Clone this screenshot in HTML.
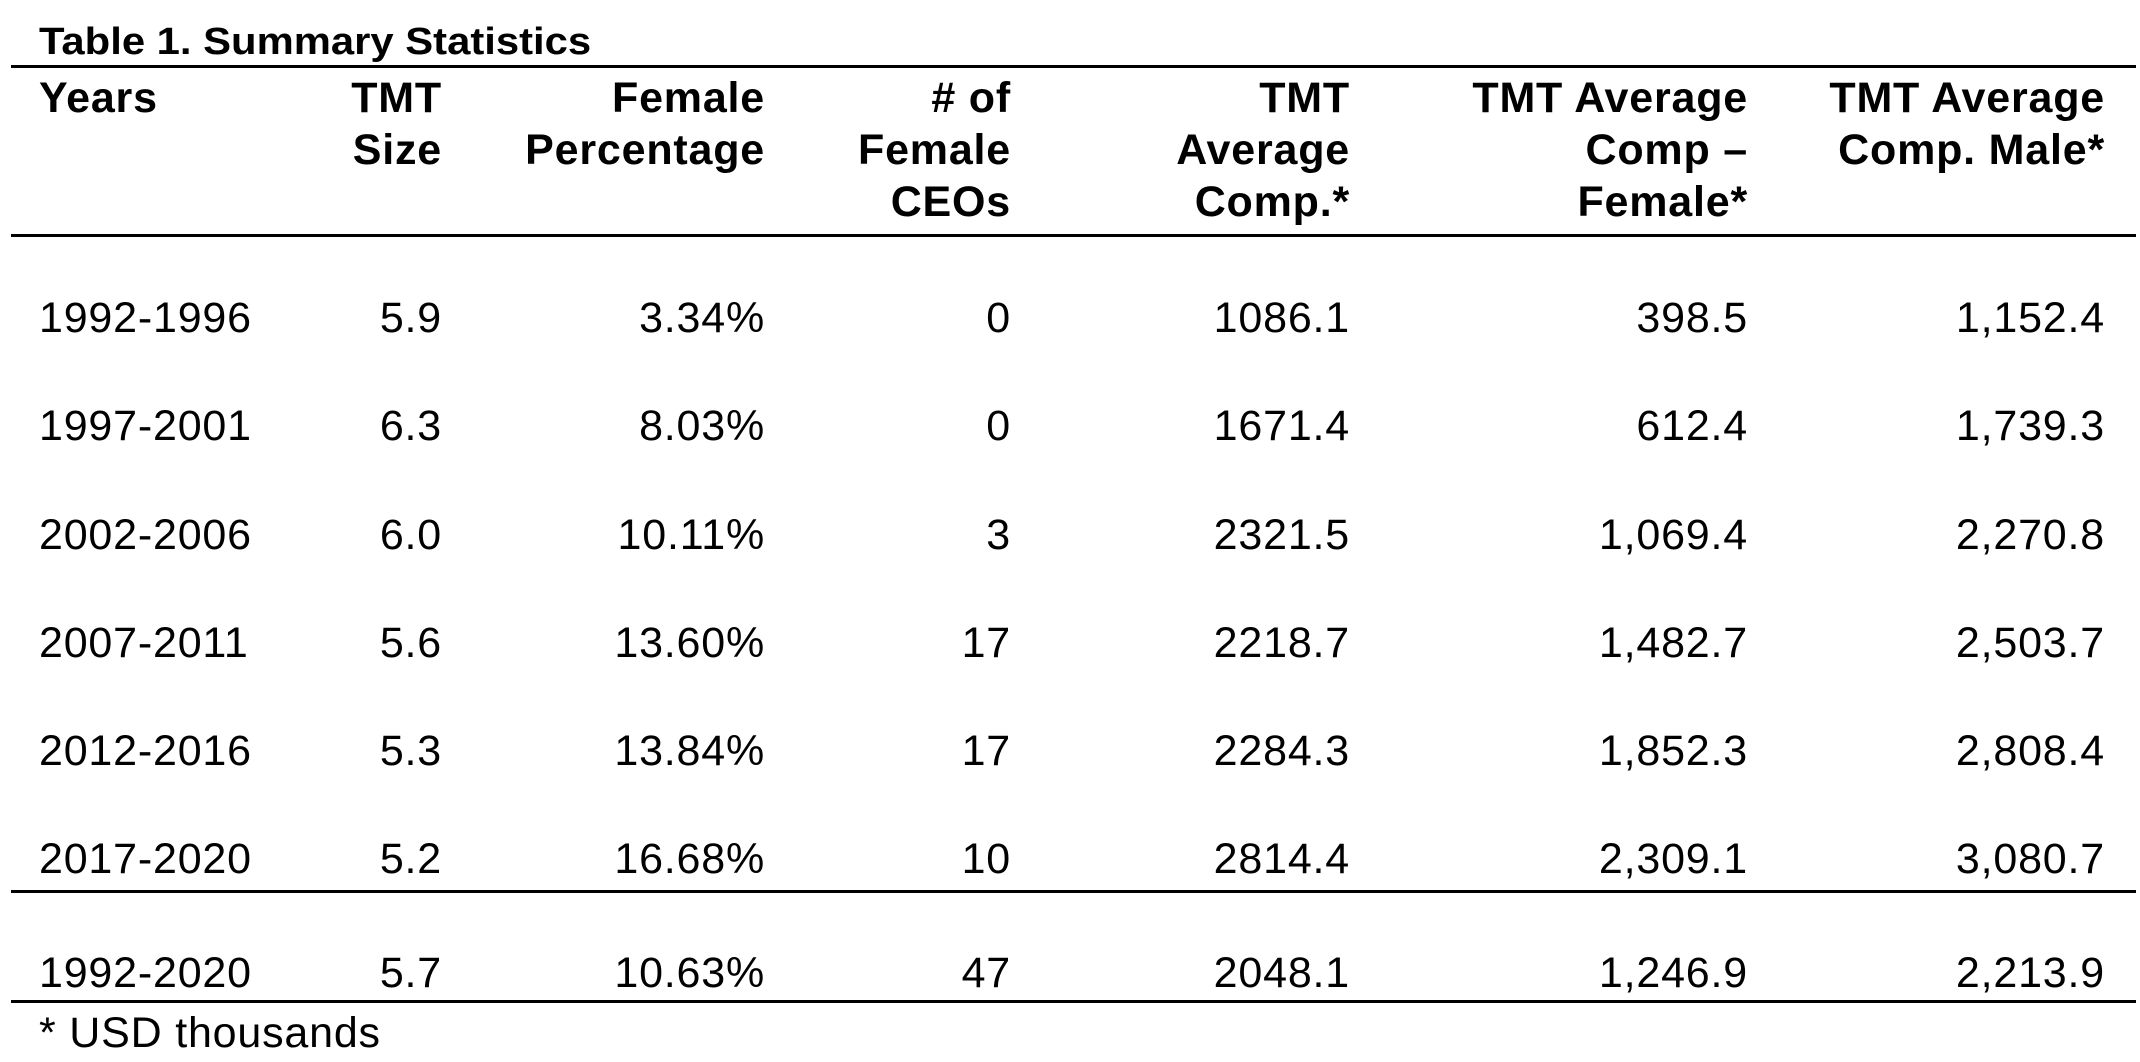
<!DOCTYPE html>
<html><head><meta charset="utf-8"><style>
body{margin:0;width:2140px;height:1062px;background:#fff;position:relative;overflow:hidden;font-family:"Liberation Sans",Arial,sans-serif;color:#000}
.t{position:absolute;font-size:43px;line-height:50px;white-space:nowrap;letter-spacing:0.8px}
.b{font-weight:bold}
.r{text-align:right}
.ln{position:absolute;left:11px;width:2125px;height:3px;background:#000}
</style></head><body>
<div class="t b" style="left:39px;top:20px;font-size:38px;line-height:44px;letter-spacing:0;transform:scaleX(1.1);transform-origin:0 0">Table 1. Summary Statistics</div>
<div class="ln" style="top:65px"></div>
<div class="ln" style="top:234px"></div>
<div class="ln" style="top:890px"></div>
<div class="ln" style="top:1000px"></div>

<div class="t b" style="left:39px;top:72px;line-height:52px">Years</div>
<div class="t b r" style="right:1698px;top:72px;line-height:52px">TMT<br>Size</div>
<div class="t b r" style="right:1375px;top:72px;line-height:52px">Female<br>Percentage</div>
<div class="t b r" style="right:1129px;top:72px;line-height:52px"># of<br>Female<br>CEOs</div>
<div class="t b r" style="right:790px;top:72px;line-height:52px">TMT<br>Average<br>Comp.*</div>
<div class="t b r" style="right:392px;top:72px;line-height:52px">TMT Average<br>Comp –<br>Female*</div>
<div class="t b r" style="right:35px;top:72px;line-height:52px">TMT Average<br>Comp. Male*</div>

<div class="t" style="left:39px;top:264px;line-height:108.3px">1992-1996<br>1997-2001<br>2002-2006<br>2007-2011<br>2012-2016<br>2017-2020</div>
<div class="t r" style="right:1698px;top:264px;line-height:108.3px">5.9<br>6.3<br>6.0<br>5.6<br>5.3<br>5.2</div>
<div class="t r" style="right:1375px;top:264px;line-height:108.3px">3.34%<br>8.03%<br>10.11%<br>13.60%<br>13.84%<br>16.68%</div>
<div class="t r" style="right:1129px;top:264px;line-height:108.3px">0<br>0<br>3<br>17<br>17<br>10</div>
<div class="t r" style="right:790px;top:264px;line-height:108.3px">1086.1<br>1671.4<br>2321.5<br>2218.7<br>2284.3<br>2814.4</div>
<div class="t r" style="right:392px;top:264px;line-height:108.3px">398.5<br>612.4<br>1,069.4<br>1,482.7<br>1,852.3<br>2,309.1</div>
<div class="t r" style="right:35px;top:264px;line-height:108.3px">1,152.4<br>1,739.3<br>2,270.8<br>2,503.7<br>2,808.4<br>3,080.7</div>

<div class="t" style="left:39px;top:948px">1992-2020</div>
<div class="t r" style="right:1698px;top:948px">5.7</div>
<div class="t r" style="right:1375px;top:948px">10.63%</div>
<div class="t r" style="right:1129px;top:948px">47</div>
<div class="t r" style="right:790px;top:948px">2048.1</div>
<div class="t r" style="right:392px;top:948px">1,246.9</div>
<div class="t r" style="right:35px;top:948px">2,213.9</div>

<div class="t" style="left:39px;top:1008px">* USD thousands</div>
</body></html>
